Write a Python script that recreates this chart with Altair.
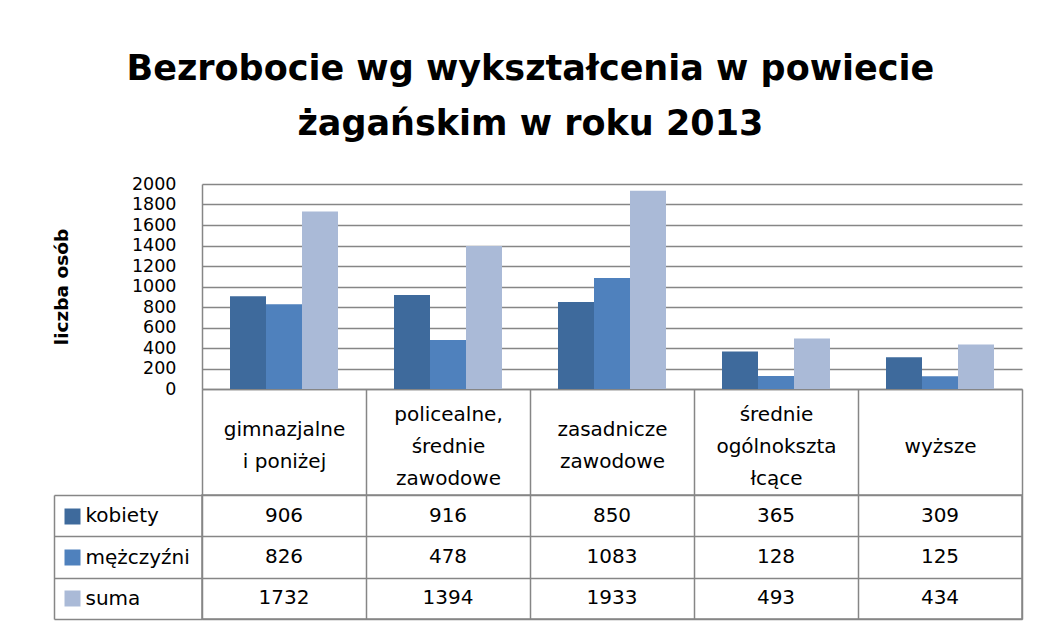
import altair as alt
import pandas as pd

categories = ["gimnazjalne\ni poniżej", "policealne,\nśrednie\nzawodowe", "zasadnicze\nzawodowe",
              "średnie\nogólnokszta\nłcące", "wyższe"]
series = ["kobiety", "mężczyźni", "suma"]
kobiety = [906, 916, 850, 365, 309]
mezczyzni = [826, 478, 1083, 128, 125]
suma = [1732, 1394, 1933, 493, 434]
colors = ["#3E6A9C", "#4F81BD", "#AABAD7"]
y_ticks = [0, 200, 400, 600, 800, 1000, 1200, 1400, 1600, 1800, 2000]
title_lines = ["Bezrobocie wg wykształcenia w powiecie", "żagańskim  w roku 2013"]
y_title = "liczba osób"

rows = []
for i, c in enumerate(categories):
    for s, vals in zip(series, [kobiety, mezczyzni, suma]):
        rows.append({"kategoria": c, "seria": s, "wartosc": vals[i]})
df = pd.DataFrame(rows)

GRID = "#868686"
FONT = "DejaVu Sans"
FS = 20

nlines = "length(split(datum.label, '\\n'))"

bars = alt.Chart(df).mark_bar().encode(
    x=alt.X("kategoria:N", sort=categories, title=None,
            scale=alt.Scale(paddingInner=0, paddingOuter=0),
            axis=alt.Axis(orient="bottom", labelExpr="split(datum.label, '\\n')", labelAngle=0,
                          labelFontSize=FS, labelLineHeight=32, labelBaseline="middle",
                          labelPadding={"condition": [
                              {"test": f"{nlines} == 3", "value": -81},
                              {"test": f"{nlines} == 2", "value": -66}],
                              "value": -49},
                          labelOverlap=False, labelColor="black", labelFont=FONT,
                          tickBand="extent", tickSize=106, tickColor=GRID, tickWidth=1.5,
                          domainColor=GRID, domainWidth=1.5, grid=False)),
    xOffset=alt.XOffset("seria:N", sort=series,
                        scale=alt.Scale(paddingInner=0, paddingOuter=0.778)),
    y=alt.Y("wartosc:Q", title=y_title, scale=alt.Scale(domain=[0, 2000], nice=False),
            axis=alt.Axis(values=y_ticks, format="d", ticks=False, labelPadding=26, labelFontSize=17.5,
                          labelColor="black", labelFont=FONT, labelBaseline="middle",
                          grid=True, gridColor=GRID, gridWidth=1.5,
                          domainColor=GRID, domainWidth=1.5,
                          titleFont=FONT, titleFontSize=18.5, titleFontWeight="bold", titleColor="black",
                          titleX=-141, titleBaseline="middle")),
    color=alt.Color("seria:N", sort=series, scale=alt.Scale(domain=series, range=colors), legend=None),
).properties(width=820, height=205)

tab = alt.Chart(df).encode(
    x=alt.X("kategoria:N", sort=categories, title=None,
            scale=alt.Scale(paddingInner=0, paddingOuter=0),
            axis=alt.Axis(grid=True, tickBand="extent", gridColor=GRID, gridWidth=1.5,
                          labels=False, ticks=False, domain=False)),
)
ysc = alt.Scale(paddingInner=0, paddingOuter=0)
texts = tab.mark_text(fontSize=FS, font=FONT, color="black").encode(
    y=alt.Y("seria:N", sort=series, title=None, scale=ysc,
            axis=alt.Axis(orient="left", grid=True, tickBand="extent", gridColor=GRID, gridWidth=1.5,
                          ticks=True, tickSize=148, tickColor=GRID, tickWidth=1.5, domain=False,
                          labelAlign="left", labelPadding=-31, labelFontSize=FS,
                          labelColor="black", labelFont=FONT)),
    text="wartosc:Q",
)
border = tab.mark_point(opacity=0).encode(
    y=alt.Y("seria:N", sort=series, title=None, scale=ysc,
            axis=alt.Axis(orient="left", offset=148, domain=True, domainColor=GRID, domainWidth=1.5,
                          labels=False, ticks=False, grid=False)),
)
squares = tab.mark_point(opacity=0).encode(
    y=alt.Y("seria:N", sort=series, title=None, scale=ysc,
            axis=alt.Axis(orient="left", offset=122, domain=False, labels=False, grid=False,
                          ticks=True, tickSize=16, tickWidth=16,
                          tickColor={"condition": [
                              {"test": "datum.value === '%s'" % series[0], "value": colors[0]},
                              {"test": "datum.value === '%s'" % series[1], "value": colors[1]}],
                              "value": colors[2]})),
)
table = alt.layer(texts, border, squares).resolve_scale(y="independent").properties(
    width=820, height=124, view=alt.ViewBackground(stroke=GRID, strokeWidth=1.5))

chart = alt.vconcat(bars, table, spacing=106, bounds="flush").properties(
    title=alt.TitleParams(text=title_lines, fontSize=35, font=FONT, fontWeight="bold",
                          lineHeight=55, anchor="middle", color="black", offset=33, dx=-7),
    padding={"left": 44, "top": 44, "right": 5, "bottom": 5},
).configure_view(stroke=None)

chart.save("out.html", embed_options={"renderer": "svg", "actions": False})
